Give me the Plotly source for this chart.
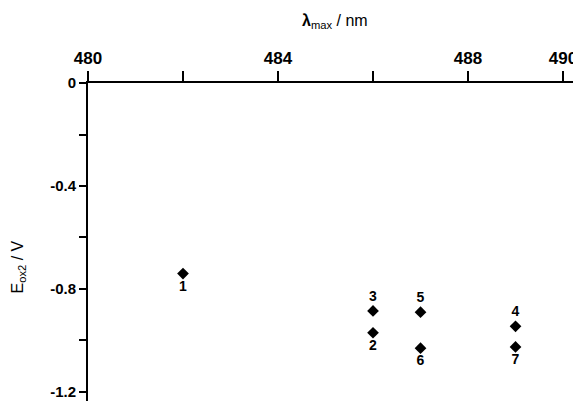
import plotly.graph_objects as go

# Data
labels = ["1", "2", "3", "4", "5", "6", "7"]
lambda_max = [482, 486, 486, 489, 487, 487, 489]
e_ox2 = [-0.74, -0.97, -0.885, -0.945, -0.89, -1.03, -1.025]
label_pos = ["bottom center", "bottom center", "top center", "top center",
             "top center", "bottom center", "bottom center"]

x_tickvals = [480, 482, 484, 486, 488, 490]
x_ticktext = ["480", "", "484", "", "488", "490"]
y_tickvals = [0, -0.2, -0.4, -0.6, -0.8, -1.0, -1.2]
y_ticktext = ["0", "", "-0.4", "", "-0.8", "", "-1.2"]

FONT = "Liberation Sans, Arial, sans-serif"

fig = go.Figure()
fig.add_trace(go.Scatter(
    x=lambda_max, y=e_ox2,
    mode="markers+text",
    text=labels,
    textposition=label_pos,
    textfont=dict(family=FONT, size=14, color="black", weight="bold"),
    marker=dict(symbol="diamond", size=9, color="black"),
    cliponaxis=False,
    showlegend=False,
))

fig.update_layout(
    width=573, height=401,
    margin=dict(l=88, r=0, t=83, b=0, autoexpand=False),
    paper_bgcolor="white", plot_bgcolor="white",
    font=dict(family=FONT, color="black"),
    xaxis=dict(
        side="top", range=[480, 490.21], automargin=False,
        tickvals=x_tickvals, ticktext=x_ticktext,
        ticks="outside", ticklen=10, tickwidth=2, tickcolor="black",
        ticklabeloverflow="allow",
        showline=True, linewidth=2, linecolor="black",
        showgrid=False, zeroline=False,
        tickfont=dict(family=FONT, size=17, color="black", weight="bold"),
    ),
    yaxis=dict(
        range=[-1.235, 0], automargin=False,
        tickvals=y_tickvals, ticktext=y_ticktext,
        ticks="outside", ticklen=7, tickwidth=2, tickcolor="black",
        ticklabeloverflow="allow",
        showline=True, linewidth=2, linecolor="black",
        showgrid=False, zeroline=False,
        tickfont=dict(family=FONT, size=15, color="black", weight="bold"),
    ),
    annotations=[
        dict(text="<b>λ</b><sub>max</sub> / nm", xref="paper", yref="paper",
             x=0.51, y=1.0, yshift=62, xanchor="center", yanchor="middle",
             showarrow=False,
             font=dict(family=FONT, size=16, color="black")),
        dict(text="E<sub>ox2</sub> / V", xref="paper", yref="paper",
             x=0, y=0.42, xshift=-70, xanchor="center", yanchor="middle",
             textangle=-90, showarrow=False,
             font=dict(family=FONT, size=16, color="black")),
    ],
)

# remove the default page margin so the figure fills the window exactly
fig.write_html(
    "out.html",
    config={"displayModeBar": False},
    post_script="document.body.style.margin='0';document.body.style.overflow='hidden';",
)
